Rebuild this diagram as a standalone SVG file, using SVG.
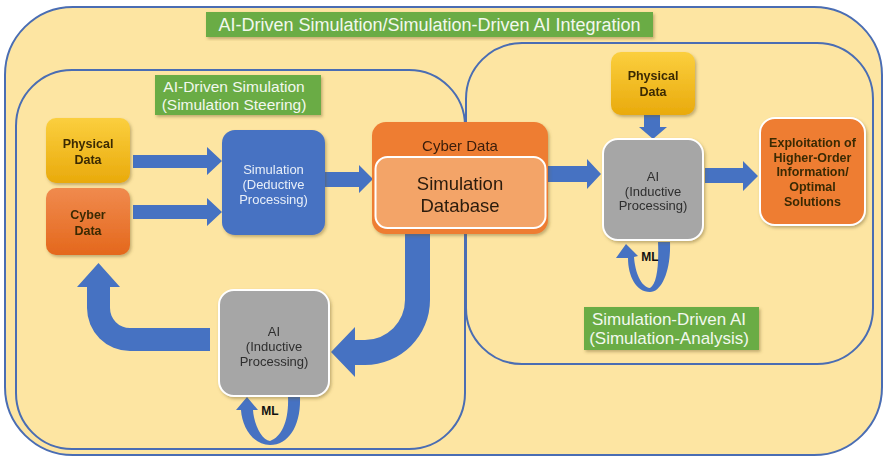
<svg xmlns="http://www.w3.org/2000/svg" width="883" height="458" viewBox="0 0 883 458">
  <defs>
    <style>
      .frame { fill: #fde5a2; stroke: #4a6db3; stroke-width: 2; }
      .zone { fill: none; stroke: #4a6db3; stroke-width: 2; }
      .tag { fill: #6aac45; }
      .tagtxt { font-family: "Liberation Sans", Arial, sans-serif; fill: #f2f8ee; text-anchor: middle; }
      .arrow { fill: #4672c2; }
      .lbl { font-family: "Liberation Sans", Arial, sans-serif; text-anchor: middle; }
      .dark { fill: #3b2a05; font-weight: bold; font-size: 12.5px; }
      .grey { fill: #2e2e2e; font-size: 13px; }
      .light { fill: #e8eef8; font-size: 13px; }
      .ml { fill: #111; font-weight: bold; font-size: 12px; }
      .aibox { fill: #a6a6a6; stroke: #ffffff; stroke-width: 2; }
    </style>
    <linearGradient id="gold" x1="0" y1="0" x2="0" y2="1">
      <stop offset="0" stop-color="#fbcf3e"/>
      <stop offset="1" stop-color="#e9aa0c"/>
    </linearGradient>
    <linearGradient id="orange" x1="0" y1="0" x2="0" y2="1">
      <stop offset="0" stop-color="#f08a4e"/>
      <stop offset="1" stop-color="#e4681c"/>
    </linearGradient>
    <filter id="shadow" x="-10%" y="-10%" width="125%" height="125%">
      <feDropShadow dx="1.5" dy="2" stdDeviation="1.8" flood-color="#6b5a2a" flood-opacity="0.4"/>
    </filter>
  </defs>

  <rect width="883" height="458" fill="#ffffff"/>

  <!-- outer integration frame -->
  <g id="integration">
    <rect class="frame" x="5" y="7" width="877" height="448" rx="68" ry="68"/>
    <rect class="tag" x="206" y="12" width="447" height="25" filter="url(#shadow)"/>
    <text class="tagtxt" x="429.5" y="31" font-size="18">AI-Driven Simulation/Simulation-Driven AI Integration</text>
  </g>

  <!-- left zone: AI-driven simulation -->
  <g id="zone-steering">
    <rect class="zone" x="16" y="70" width="449" height="379" rx="56" ry="56"/>
    <rect class="tag" x="155" y="75" width="166" height="40" filter="url(#shadow)"/>
    <text class="tagtxt" x="234" y="92" font-size="15.5">AI-Driven Simulation</text>
    <text class="tagtxt" x="234" y="110" font-size="15.5">(Simulation Steering)</text>
  </g>

  <!-- right zone: simulation-driven AI -->
  <g id="zone-analysis">
    <rect class="zone" x="466" y="43" width="407" height="321" rx="56" ry="56"/>
    <rect class="tag" x="584" y="307" width="175" height="43" filter="url(#shadow)"/>
    <text class="tagtxt" x="669" y="325" font-size="17">Simulation-Driven AI</text>
    <text class="tagtxt" x="669" y="344" font-size="17">(Simulation-Analysis)</text>
  </g>

  <!-- connectors -->
  <g id="connectors">
    <!-- physical data -> simulation -->
    <polygon class="arrow" points="133,155 207,155 207,147 222,161 207,175 207,168 133,168"/>
    <!-- cyber data -> simulation -->
    <polygon class="arrow" points="133,205 207,205 207,198 222,212 207,226 207,219 133,219"/>
    <!-- simulation -> cyber data store -->
    <polygon class="arrow" points="325,172 359,172 359,165 373,179 359,193 359,187 325,187"/>
    <!-- cyber data store -> right AI -->
    <polygon class="arrow" points="548,166 587,166 587,159 601,174 587,189 587,182 548,182"/>
    <!-- physical data -> right AI -->
    <polygon class="arrow" points="644,115 660,115 660,127 667,127 653,139 639,127 644,127"/>
    <!-- right AI -> exploitation -->
    <polygon class="arrow" points="705,168 743,168 743,161 758,176 743,191 743,183 705,183"/>
    <!-- cyber data store -> left AI (bent) -->
    <path class="arrow" d="M405,234 L430,234 L430,300 A65,65 0 0 1 365,365 L355,365 L355,377 L331,352 L355,327 L355,340 L365,340 A40,40 0 0 0 405,300 Z"/>
    <!-- left AI -> cyber data (bent) -->
    <path class="arrow" d="M210,328 L130,328 A20,20 0 0 1 110,308 L110,287 L120,287 L98.5,263 L77,287 L87,287 L87,308 A43,43 0 0 0 130,351 L210,351 Z"/>
    <!-- ML loop, left AI -->
    <path class="arrow" d="M288,397 L300,397 C301,425 289,445 270,445 C253,445 242,427 241,410 L236,410 L247,397 L258,410 L253,410 C254,425 262,440 270,441 C282,437 289,420 288,397 Z"/>
    <!-- ML loop, right AI -->
    <path class="arrow" d="M658,242 L670,242 C671,270 662,292 650,292 C636,292 628,276 628,258 L616,258 L626,244 L638,256 L634,257 C635,272 641,287 650,288 C657,284 659,265 658,242 Z"/>
  </g>

  <!-- left: physical data -->
  <g id="physical-left" filter="url(#shadow)">
    <rect x="46" y="118" width="84" height="65" rx="10" fill="url(#gold)"/>
    <text class="lbl dark" x="88" y="148">Physical</text>
    <text class="lbl dark" x="88" y="164">Data</text>
  </g>

  <!-- left: cyber data -->
  <g id="cyber-left" filter="url(#shadow)">
    <rect x="46" y="188" width="84" height="67" rx="10" fill="url(#orange)"/>
    <text class="lbl dark" x="88" y="219">Cyber</text>
    <text class="lbl dark" x="88" y="235">Data</text>
  </g>

  <!-- simulation (deductive) -->
  <g id="simulation" filter="url(#shadow)">
    <rect x="222" y="130" width="103" height="105" rx="13" fill="#4672c2"/>
    <text class="lbl light" x="273.5" y="174">Simulation</text>
    <text class="lbl light" x="273.5" y="189">(Deductive</text>
    <text class="lbl light" x="273.5" y="204">Processing)</text>
  </g>

  <!-- cyber data / simulation database -->
  <g id="cyber-store" filter="url(#shadow)">
    <rect x="372" y="122" width="176" height="112" rx="14" fill="#ee7d33"/>
    <text class="lbl" x="460" y="151" font-size="15" fill="#3a1e08">Cyber Data</text>
    <rect x="375.5" y="157" width="170" height="71" rx="12" fill="#f3a468" stroke="#ffffff" stroke-width="2"/>
    <text class="lbl" x="460" y="190" font-size="18.5" fill="#2a1a0c">Simulation</text>
    <text class="lbl" x="460" y="212" font-size="18.5" fill="#2a1a0c">Database</text>
  </g>

  <!-- left AI (inductive) -->
  <g id="ai-left" filter="url(#shadow)">
    <rect class="aibox" x="219" y="290" width="110" height="106" rx="15"/>
    <text class="lbl grey" x="274" y="336">AI</text>
    <text class="lbl grey" x="274" y="351">(Inductive</text>
    <text class="lbl grey" x="274" y="366">Processing)</text>
  </g>
  <text class="lbl ml" x="270" y="415">ML</text>

  <!-- right: physical data -->
  <g id="physical-right" filter="url(#shadow)">
    <rect x="611" y="52" width="84" height="63" rx="10" fill="url(#gold)"/>
    <text class="lbl dark" x="653" y="80">Physical</text>
    <text class="lbl dark" x="653" y="96">Data</text>
  </g>

  <!-- right AI (inductive) -->
  <g id="ai-right" filter="url(#shadow)">
    <rect class="aibox" x="603" y="139" width="100" height="101" rx="15"/>
    <text class="lbl grey" x="653" y="181">AI</text>
    <text class="lbl grey" x="653" y="196">(Inductive</text>
    <text class="lbl grey" x="653" y="210">Processing)</text>
  </g>
  <text class="lbl ml" x="650" y="261">ML</text>

  <!-- exploitation -->
  <g id="exploitation" filter="url(#shadow)">
    <rect x="760" y="118" width="105" height="107" rx="15" fill="#ee7d33" stroke="#ffffff" stroke-width="2"/>
    <text class="lbl dark" x="812.5" y="147" font-size="12">Exploitation of</text>
    <text class="lbl dark" x="812.5" y="162" font-size="12">Higher-Order</text>
    <text class="lbl dark" x="812.5" y="176" font-size="12">Information/</text>
    <text class="lbl dark" x="812.5" y="191" font-size="12">Optimal</text>
    <text class="lbl dark" x="812.5" y="206" font-size="12">Solutions</text>
  </g>
</svg>
